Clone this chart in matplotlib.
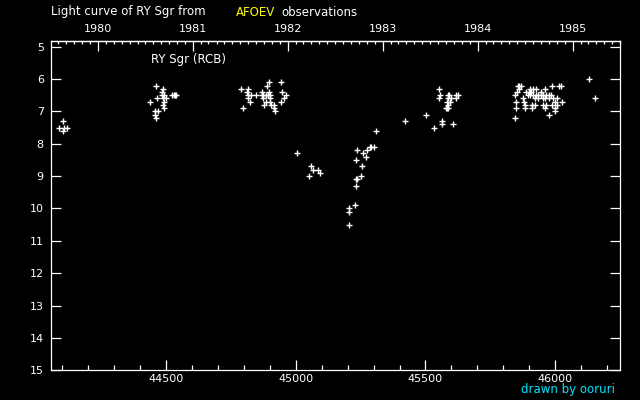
import datetime
import matplotlib
matplotlib.use('Agg')
import matplotlib.pyplot as plt
from matplotlib.ticker import MultipleLocator, FixedLocator, NullLocator

# JD - 2400000 and visual magnitude, one pair of lists per observing season
s1_jd = [44089, 44104, 44104, 44110, 44121]
s1_mag = [7.5, 7.3, 7.6, 7.5, 7.5]

s2_jd = [44439, 44460, 44460, 44462, 44462, 44465, 44469, 44486, 44486, 44488,
         44488, 44490, 44492, 44492, 44495, 44500, 44524, 44530, 44536, 44540]
s2_mag = [6.7, 7.0, 7.1, 6.2, 7.2, 6.6, 7.0, 6.4, 6.5, 6.3,
          6.8, 6.6, 6.5, 6.7, 6.9, 6.6, 6.5, 6.5, 6.5, 6.5]

s3_jd = [44788, 44796, 44811, 44815, 44815, 44818, 44823, 44828, 44848, 44869,
         44869, 44876, 44876, 44880, 44884, 44884, 44888, 44892, 44896, 44897,
         44900, 44902, 44903, 44907, 44915, 44915, 44919, 44945, 44945, 44948,
         44957, 44961]
s3_mag = [6.3, 6.9, 6.4, 6.3, 6.6, 6.5, 6.7, 6.5, 6.5, 6.4,
          6.5, 6.5, 6.6, 6.8, 6.5, 6.7, 6.2, 6.5, 6.1, 6.4,
          6.6, 6.5, 6.7, 6.8, 6.8, 6.9, 7.0, 6.1, 6.7, 6.4,
          6.6, 6.5]

s4_jd = [45007, 45053, 45061, 45066, 45088, 45093, 45207, 45207, 45207, 45230,
         45234, 45234, 45238, 45234, 45237, 45253, 45256, 45260, 45272, 45276,
         45287, 45291, 45303, 45310, 45422]
s4_mag = [8.3, 9.0, 8.7, 8.8, 8.8, 8.9, 10.0, 10.1, 10.5, 9.9,
          9.3, 9.1, 9.1, 8.5, 8.2, 9.0, 8.7, 8.3, 8.4, 8.2,
          8.1, 8.1, 8.1, 7.6, 7.3]

s5_jd = [45502, 45533, 45552, 45552, 45556, 45564, 45564, 45578, 45581, 45584,
         45586, 45587, 45587, 45587, 45589, 45596, 45600, 45604, 45618, 45619,
         45627]
s5_mag = [7.1, 7.5, 6.3, 6.6, 6.5, 7.3, 7.4, 6.9, 6.7, 6.9,
          6.5, 6.6, 6.8, 6.9, 6.5, 6.7, 6.6, 7.4, 6.6, 6.5,
          6.5]

s6_jd = [45856, 45860, 45869, 45986, 46013, 46021,
         45859, 45903, 45913, 45926, 45959,
         45851, 45888, 45898, 45908, 45944,
         45846, 45893, 45903, 45913, 45924, 45934, 45944, 45954, 45965, 45975, 45984,
         45875, 45921, 45934, 45952, 45959, 45975, 45990, 46005,
         45849, 45878, 45998, 46026,
         45885, 45911, 45921, 45952, 45965, 45988, 46005,
         45849, 45883, 45911, 45959, 45998,
         45998, 45975, 45844, 46128, 46151]
s6_mag = [6.2, 6.2, 6.2, 6.2, 6.2, 6.2,
          6.3, 6.3, 6.3, 6.3, 6.3,
          6.4, 6.4, 6.4, 6.4, 6.4,
          6.5, 6.5, 6.5, 6.5, 6.5, 6.5, 6.5, 6.5, 6.5, 6.5, 6.5,
          6.6, 6.6, 6.6, 6.6, 6.6, 6.6, 6.6, 6.6,
          6.7, 6.7, 6.7, 6.7,
          6.8, 6.8, 6.8, 6.8, 6.8, 6.8, 6.8,
          6.9, 6.9, 6.9, 6.9, 6.9,
          7.0, 7.1, 7.2, 6.0, 6.6]

years = [1980, 1981, 1982, 1983, 1984, 1985]
bottom_ticks = [44500, 45000, 45500, 46000]


def jd_of(d):
    # JD - 2400000 at 0h UT
    return (d - datetime.date(1858, 11, 17)).days + 0.5


jd = s1_jd + s2_jd + s3_jd + s4_jd + s5_jd + s6_jd
mag = s1_mag + s2_mag + s3_mag + s4_mag + s5_mag + s6_mag

fig = plt.figure(figsize=(6.4, 4), dpi=100, facecolor='black')
ax = fig.add_axes([50.7 / 640, 29.7 / 400, 569.6 / 640, 329.6 / 400])
ax.set_facecolor('black')
for sp in ax.spines.values():
    sp.set_color('white')
    sp.set_linewidth(0.9)

ax.plot(jd, mag, '+', color='white', ms=3.8, mew=1.0, ls='none')

ax.set_xlim(44057, 46250)
ax.set_ylim(15, 4.815)

ax.xaxis.set_major_locator(FixedLocator(bottom_ticks))
ax.xaxis.set_minor_locator(MultipleLocator(100))
ax.yaxis.set_major_locator(MultipleLocator(1))
ax.yaxis.set_minor_locator(NullLocator())
ax.tick_params(axis='x', which='major', direction='in', length=7.2, width=0.9,
               color='white', labelcolor='white', labelsize=8, pad=2.5, top=False)
ax.tick_params(axis='x', which='minor', direction='in', length=3.8, width=0.9,
               color='white', top=False)
ax.tick_params(axis='y', which='major', direction='in', length=7.2, width=0.9,
               color='white', labelcolor='white', labelsize=8, pad=5, right=True)

# calendar years on top
top = ax.secondary_xaxis('top')
top.spines['top'].set_color('white')
top.spines['top'].set_linewidth(0.9)
top.set_xticks([jd_of(datetime.date(y, 1, 1)) for y in years], labels=[str(y) for y in years])
months = [jd_of(datetime.date(y, m, 1)) for y in range(1979, 1986) for m in range(1, 13)]
top.xaxis.set_minor_locator(FixedLocator(months))
top.tick_params(axis='x', which='major', direction='in', length=7.2, width=0.9,
                color='white', labelcolor='white', labelsize=8, pad=5)
top.tick_params(axis='x', which='minor', direction='in', length=2.2, width=0.9,
                color='white')

fig.text(50.7 / 640, 1 - 15.5 / 400, 'Light curve of RY Sgr from', color='white',
         fontsize=8.5, va='baseline')
fig.text(236 / 640, 1 - 15.5 / 400, 'AFOEV', color='#ffff00', fontsize=8.5, va='baseline')
fig.text(281.7 / 640, 1 - 15.5 / 400, 'observations', color='white', fontsize=8.5,
         va='baseline')
fig.text(150.7 / 640, 1 - 63.5 / 400, 'RY Sgr (RCB)', color='white', fontsize=8.5,
         va='baseline')
fig.text(520.7 / 640, 1 - 393.5 / 400, 'drawn by ooruri', color='#00e5ff', fontsize=8.5,
         va='baseline')

fig.savefig('out.png', dpi=100, facecolor='black')
